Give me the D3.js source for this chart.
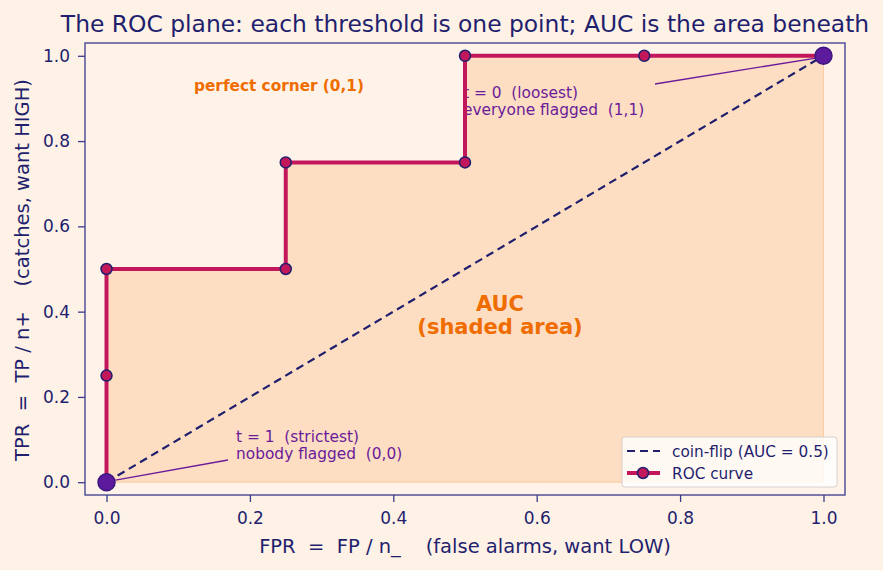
<!DOCTYPE html>
<html>
<head>
<meta charset="utf-8">
<script src="https://cdn.jsdelivr.net/npm/d3@7"></script>
<style>
  body { margin: 0; background: #fef1e6; }
  svg { font-family: "DejaVu Sans", sans-serif; display: block; }
  svg text { white-space: pre; }
</style>
</head>
<body>
<svg id="chart" width="883" height="570"></svg>
<script>
// ROC points, strictest threshold first
var fpr = [0, 0, 0, 0.25, 0.25, 0.5, 0.5, 0.75, 1];
var tpr = [0, 0.25, 0.5, 0.5, 0.75, 0.75, 1, 1, 1];
var ticks = [0, 0.2, 0.4, 0.6, 0.8, 1.0];

var navy = "#1f1f6e", crimson = "#c2185b", purple = "#6a1b9a", orange = "#ef6c00";

var svg = d3.select("#chart");
var pLeft = 85, pRight = 845, pTop = 43, pBottom = 495;

var x = d3.scaleLinear().domain([-0.03, 1.03]).range([pLeft, pRight]);
var y = d3.scaleLinear().domain([-0.03, 1.03]).range([pBottom, pTop]);

var pts = fpr.map(function(f, i) { return [f, tpr[i]]; });

svg.append("rect").attr("x", pLeft).attr("y", pTop)
    .attr("width", pRight - pLeft).attr("height", pBottom - pTop)
    .attr("fill", "#fff3e9");

// shaded AUC
var area = d3.area()
    .x(function(d) { return x(d[0]); })
    .y0(y(0))
    .y1(function(d) { return y(d[1]); })
    .curve(d3.curveStepAfter);
svg.append("path").datum(pts)
    .attr("d", area)
    .attr("fill", "#fbb77a").attr("fill-opacity", 0.35)
    .attr("stroke", "#f8b070").attr("stroke-opacity", 0.5);

// annotations (under the curve)
function note(lines, tx, ty, ax, ay, px, py) {
    var g = svg.append("g");
    g.append("line")
        .attr("x1", ax).attr("y1", ay).attr("x2", px).attr("y2", py)
        .attr("stroke", purple).attr("stroke-width", 1.3);
    var t = g.append("text").attr("fill", purple).attr("font-size", 15.4);
    lines.forEach(function(s, i) {
        t.append("tspan").attr("x", tx).attr("y", ty + i * 17).text(s);
    });
}
note(["t = 1  (strictest)", "nobody flagged  (0,0)"], 236, 442,
     228, 460, x(0) + 9, y(0) - 2);
note(["t = 0  (loosest)", "everyone flagged  (1,1)"], 463, 98,
     655, 84, x(1) - 6, y(1) + 2);

// coin flip
svg.append("line")
    .attr("x1", x(0)).attr("y1", y(0)).attr("x2", x(1)).attr("y2", y(1))
    .attr("stroke", navy).attr("stroke-width", 2.2)
    .attr("stroke-dasharray", "8,5");

// ROC line
var line = d3.line()
    .x(function(d) { return x(d[0]); })
    .y(function(d) { return y(d[1]); })
    .curve(d3.curveStepAfter);
svg.append("path").datum(pts)
    .attr("d", line)
    .attr("fill", "none").attr("stroke", crimson).attr("stroke-width", 4);

svg.selectAll("circle.pt").data(pts.slice(1, pts.length - 1))
    .enter().append("circle")
    .attr("class", "pt")
    .attr("cx", function(d) { return x(d[0]); })
    .attr("cy", function(d) { return y(d[1]); })
    .attr("r", 5.5)
    .attr("fill", crimson).attr("stroke", navy).attr("stroke-width", 1.5);

svg.selectAll("circle.end").data([pts[0], pts[pts.length - 1]])
    .enter().append("circle")
    .attr("class", "end")
    .attr("cx", function(d) { return x(d[0]); })
    .attr("cy", function(d) { return y(d[1]); })
    .attr("r", 8.5)
    .attr("fill", "#5e1a9c").attr("stroke", "#3a1780").attr("stroke-width", 1.5);

svg.append("text").attr("x", 279).attr("y", 91)
    .attr("text-anchor", "middle").attr("fill", orange)
    .attr("font-size", 15.3).attr("font-weight", "bold")
    .text("perfect corner (0,1)");

var auc = svg.append("text").attr("text-anchor", "middle")
    .attr("fill", orange).attr("font-size", 21).attr("font-weight", "bold");
auc.append("tspan").attr("x", 500).attr("y", 311).text("AUC");
auc.append("tspan").attr("x", 500).attr("y", 334).text("(shaded area)");

// axes
var fmt = d3.format(".1f");
var gx = svg.append("g").attr("transform", "translate(0," + pBottom + ")")
    .call(d3.axisBottom(x).tickValues(ticks).tickFormat(fmt).tickSize(7).tickPadding(10));
var gy = svg.append("g").attr("transform", "translate(" + pLeft + ",0)")
    .call(d3.axisLeft(y).tickValues(ticks).tickFormat(fmt).tickSize(7).tickPadding(8));
[gx, gy].forEach(function(g) {
    g.select(".domain").remove();
    g.selectAll(".tick line").attr("stroke", "#3a3a8c").attr("stroke-width", 1.3);
    g.selectAll(".tick text").attr("fill", navy).attr("font-size", 17)
        .attr("font-family", "DejaVu Sans, sans-serif");
});

svg.append("rect").attr("x", pLeft).attr("y", pTop)
    .attr("width", pRight - pLeft).attr("height", pBottom - pTop)
    .attr("fill", "none").attr("stroke", "#3a3a8c").attr("stroke-width", 1.3);

// legend
var lg = svg.append("g").attr("transform", "translate(622,437)");
lg.append("rect").attr("width", 215).attr("height", 50).attr("rx", 3)
    .attr("fill", "#ffffff").attr("fill-opacity", 0.8)
    .attr("stroke", "#d6d0cc");
lg.append("line").attr("x1", 5).attr("x2", 38).attr("y1", 14).attr("y2", 14)
    .attr("stroke", navy).attr("stroke-width", 2.2).attr("stroke-dasharray", "8,5");
lg.append("line").attr("x1", 5).attr("x2", 38).attr("y1", 36).attr("y2", 36)
    .attr("stroke", crimson).attr("stroke-width", 4);
lg.append("circle").attr("cx", 21).attr("cy", 36).attr("r", 5.5)
    .attr("fill", crimson).attr("stroke", navy).attr("stroke-width", 1.5);
lg.append("text").attr("x", 50).attr("y", 19.5).attr("font-size", 15.3)
    .attr("fill", navy).text("coin-flip (AUC = 0.5)");
lg.append("text").attr("x", 50).attr("y", 41.5).attr("font-size", 15.3)
    .attr("fill", navy).text("ROC curve");

// titles
svg.append("text").attr("x", 465).attr("y", 32).attr("text-anchor", "middle")
    .attr("fill", navy).attr("font-size", 23.4)
    .text("The ROC plane: each threshold is one point; AUC is the area beneath");
svg.append("text").attr("x", 465).attr("y", 553).attr("text-anchor", "middle")
    .attr("fill", navy).attr("font-size", 19.5)
    .text("FPR  =  FP / n_    (false alarms, want LOW)");
svg.append("text").attr("transform", "translate(29,270) rotate(-90)")
    .attr("text-anchor", "middle").attr("fill", navy).attr("font-size", 19.5)
    .text("TPR  =  TP / n+    (catches, want HIGH)");
</script>
</body>
</html>
